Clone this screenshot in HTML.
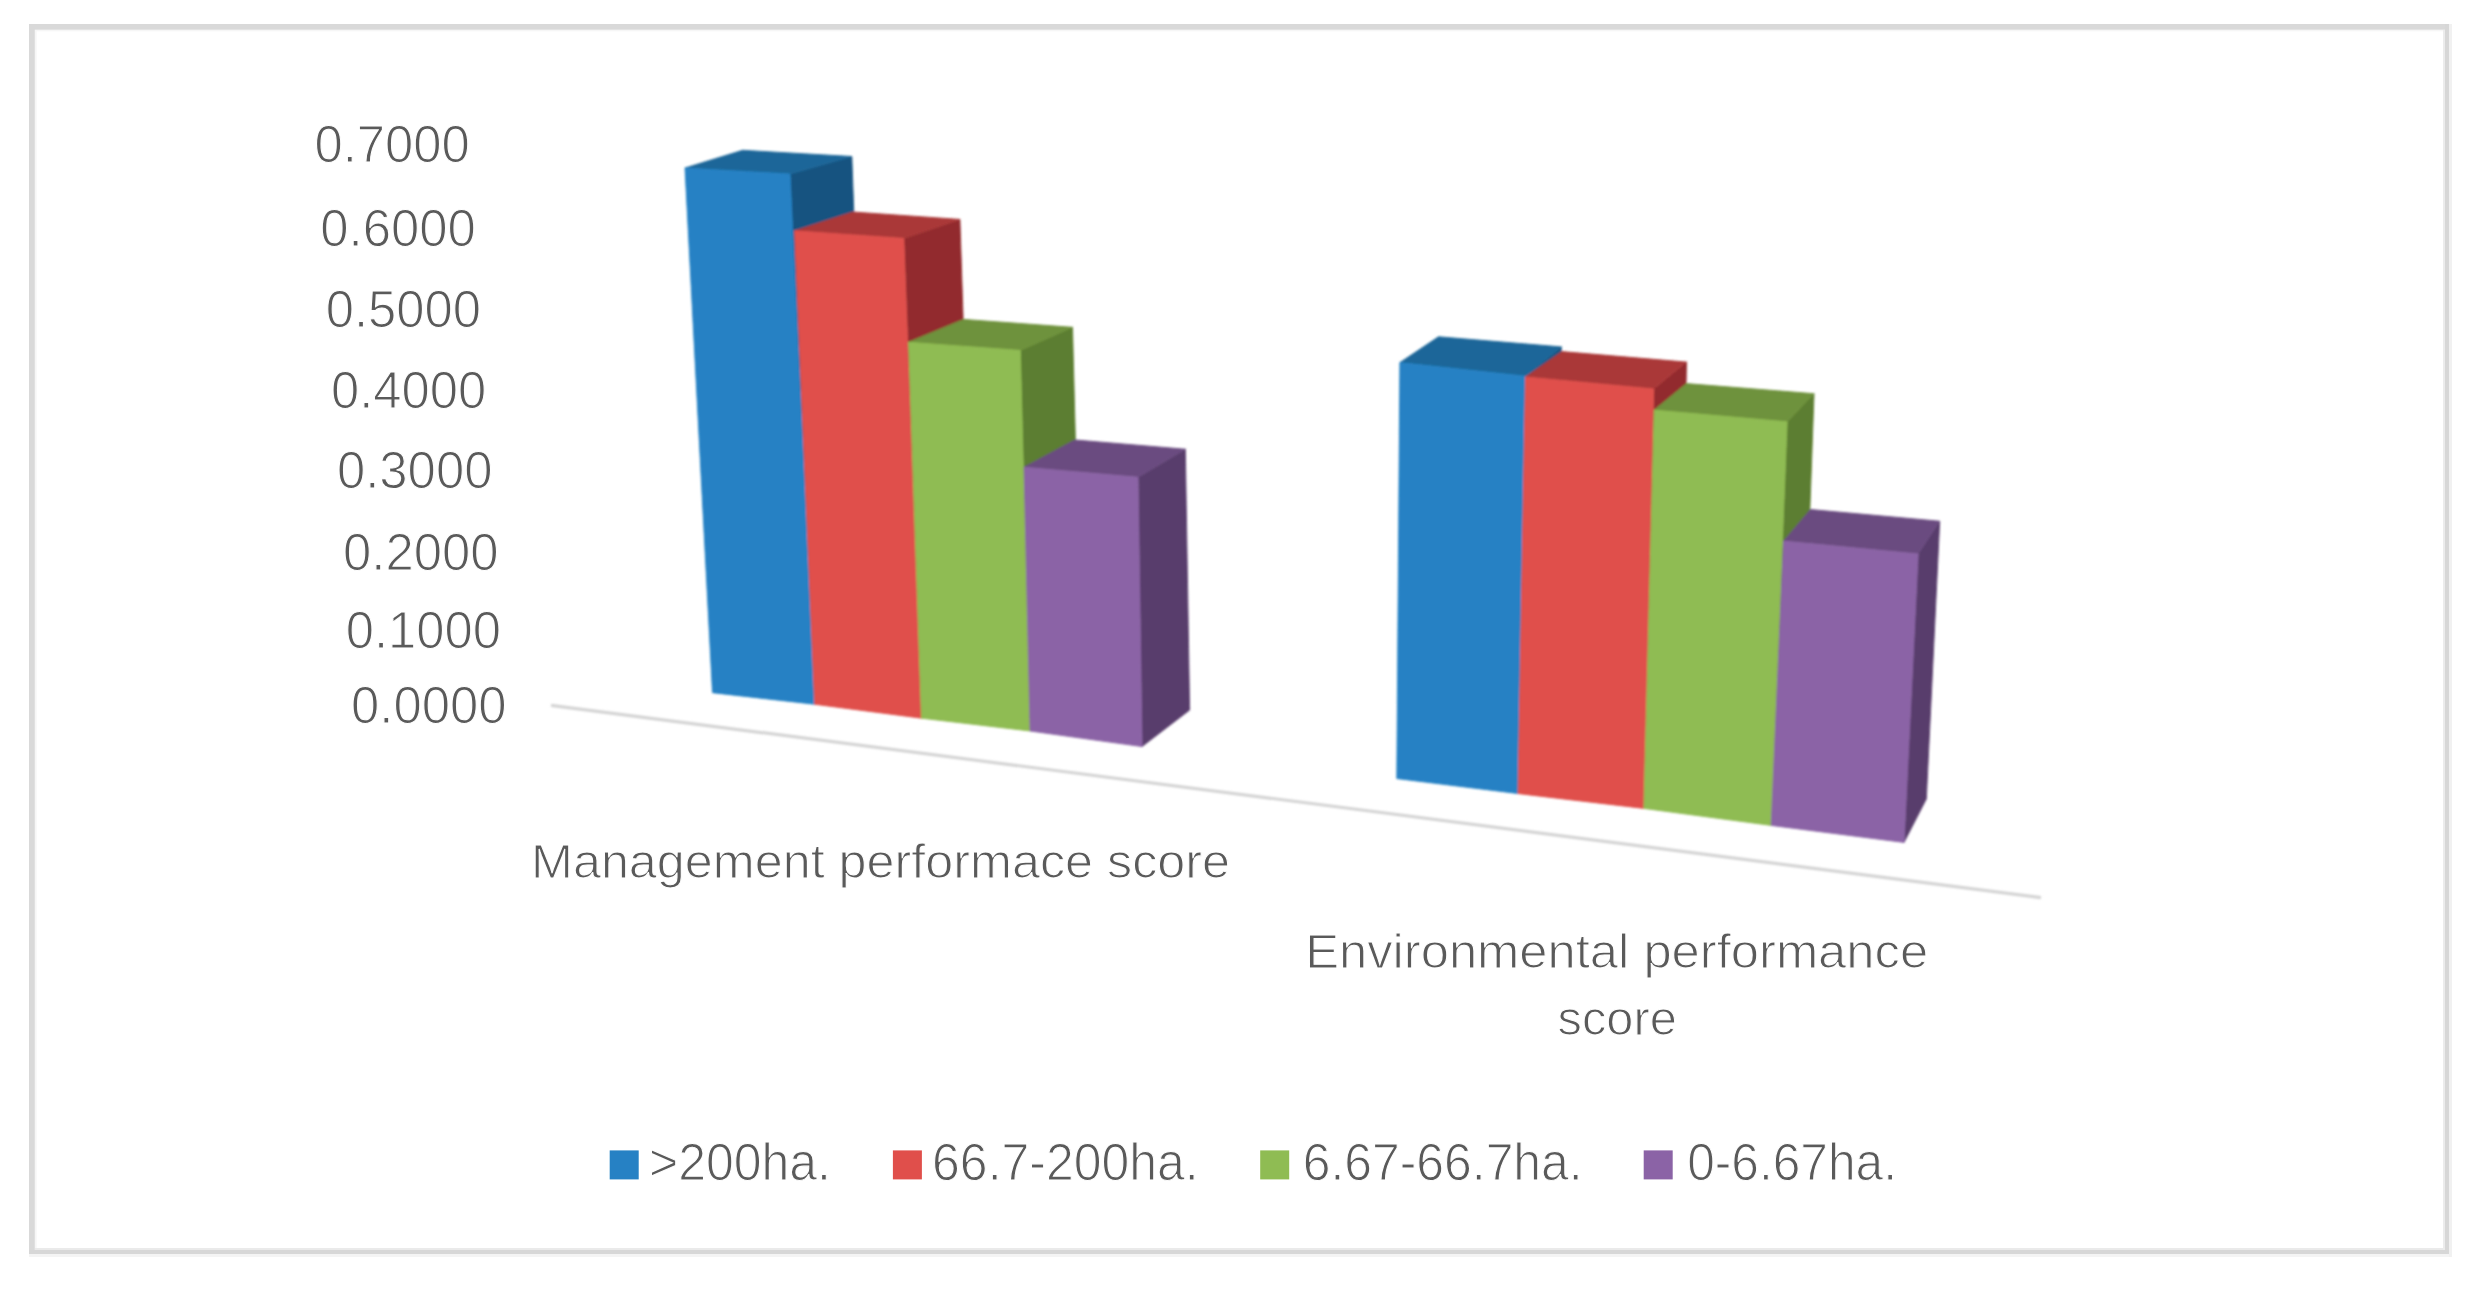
<!DOCTYPE html>
<html><head><meta charset="utf-8"><title>chart</title>
<style>
html,body{margin:0;padding:0;background:#fff;}
body{width:2479px;height:1292px;overflow:hidden;}
svg{display:block;}
polygon{stroke-width:0.9;stroke-linejoin:round;}
text{font-family:"Liberation Sans",sans-serif;fill:#5a5a5a;stroke:#ffffff;stroke-width:1.1;paint-order:fill stroke;}
</style></head><body>
<svg width="2479" height="1292" viewBox="0 0 2479 1292">
<defs>
<filter id="bl" x="-5%" y="-5%" width="110%" height="110%"><feGaussianBlur stdDeviation="1.0"/></filter>
<filter id="bt" x="-5%" y="-5%" width="110%" height="110%"><feGaussianBlur stdDeviation="0.6"/></filter>
</defs>
<rect x="0" y="0" width="2479" height="1292" fill="#ffffff"/>
<g id="frame">
<rect x="29" y="1254" width="2423" height="3" fill="#f4f4f4"/>
<rect x="2449" y="24" width="3" height="1233" fill="#f1f1f1"/>
<rect x="34.8" y="29.7" width="2410" height="1.6" fill="#f6f6f6"/>
<rect x="34.8" y="29.7" width="1.8" height="1220" fill="#f6f6f6"/>
<rect x="34.8" y="1248" width="2410" height="2" fill="#eaeaea"/>
<rect x="2443" y="29.7" width="2" height="1220.3" fill="#ececec"/>
<rect x="29" y="24" width="2420" height="5.7" fill="#d9d9d9"/>
<rect x="29" y="24" width="5.8" height="1230" fill="#d9d9d9"/>
<rect x="29" y="1250" width="2420" height="4" fill="#d7d7d7"/>
<rect x="2445" y="24" width="4" height="1230" fill="#d7d7d7"/>
</g>
<line x1="551" y1="705.4" x2="2041" y2="897.6" stroke="#d4d4d4" stroke-width="3.2" filter="url(#bl)"/>
<g id="bars1" filter="url(#bl)">
<polygon fill="#165280" stroke="#165280" points="790.0,174.0 851.8,156.5 870.0,670.0 814.7,704.3"/>
<polygon fill="#1c6699" stroke="#1c6699" points="685.0,168.0 742.6,150.3 851.8,156.5 790.0,174.0"/>
<polygon fill="#2581c4" stroke="#2581c4" points="685.0,168.0 790.0,174.0 814.7,704.3 712.5,692.7"/>
<polygon fill="#922c2e" stroke="#922c2e" points="903.8,238.4 959.9,219.4 975.0,690.0 921.5,718.2"/>
<polygon fill="#aa3838" stroke="#aa3838" points="794.6,230.8 852.9,212.0 959.9,219.4 903.8,238.4"/>
<polygon fill="#e0504c" stroke="#e0504c" points="794.6,230.8 903.8,238.4 921.5,718.2 814.7,704.3"/>
<polygon fill="#5c7e30" stroke="#5c7e30" points="1020.3,350.4 1072.5,327.3 1082.0,700.0 1030.1,731.0"/>
<polygon fill="#6e923c" stroke="#6e923c" points="908.6,342.2 963.6,319.4 1072.5,327.3 1020.3,350.4"/>
<polygon fill="#8fbc52" stroke="#8fbc52" points="908.6,342.2 1020.3,350.4 1030.1,731.0 921.5,718.2"/>
<polygon fill="#583c6c" stroke="#583c6c" points="1138.0,477.3 1185.3,449.2 1189.6,710.1 1142.0,746.6"/>
<polygon fill="#6a4c80" stroke="#6a4c80" points="1024.1,467.2 1074.8,439.9 1185.3,449.2 1138.0,477.3"/>
<polygon fill="#8b64a6" stroke="#8b64a6" points="1024.1,467.2 1138.0,477.3 1142.0,746.6 1030.1,731.0"/>
</g>
<g id="bars2" filter="url(#bl)">
<polygon fill="#165280" stroke="#165280" points="1525.5,376.2 1561.3,346.9 1555.0,760.0 1518.0,793.6"/>
<polygon fill="#1c6699" stroke="#1c6699" points="1399.9,362.6 1438.5,336.8 1561.3,346.9 1525.5,376.2"/>
<polygon fill="#2581c4" stroke="#2581c4" points="1399.9,362.6 1525.5,376.2 1518.0,793.6 1396.8,778.6"/>
<polygon fill="#922c2e" stroke="#922c2e" points="1653.7,389.0 1686.5,362.1 1678.0,770.0 1643.9,808.4"/>
<polygon fill="#aa3838" stroke="#aa3838" points="1525.5,376.9 1562.0,351.6 1686.5,362.1 1653.7,389.0"/>
<polygon fill="#e0504c" stroke="#e0504c" points="1525.5,376.9 1653.7,389.0 1643.9,808.4 1518.0,793.6"/>
<polygon fill="#5c7e30" stroke="#5c7e30" points="1787.1,421.8 1814.0,393.7 1800.0,785.0 1771.2,825.4"/>
<polygon fill="#6e923c" stroke="#6e923c" points="1654.2,410.1 1686.5,383.6 1814.0,393.7 1787.1,421.8"/>
<polygon fill="#8fbc52" stroke="#8fbc52" points="1654.2,410.1 1787.1,421.8 1771.2,825.4 1643.9,808.4"/>
<polygon fill="#583c6c" stroke="#583c6c" points="1918.1,554.0 1939.7,521.2 1926.3,799.0 1904.0,842.4"/>
<polygon fill="#6a4c80" stroke="#6a4c80" points="1783.6,541.1 1810.5,509.5 1939.7,521.2 1918.1,554.0"/>
<polygon fill="#8b64a6" stroke="#8b64a6" points="1783.6,541.1 1918.1,554.0 1904.0,842.4 1771.2,825.4"/>
</g>
<g font-size="51" id="ylabels" filter="url(#bt)">
<text x="314.4" y="161.7" textLength="155.4" lengthAdjust="spacingAndGlyphs">0.7000</text>
<text x="320.3" y="245.5" textLength="155.5" lengthAdjust="spacingAndGlyphs">0.6000</text>
<text x="325.7" y="327.0" textLength="155.2" lengthAdjust="spacingAndGlyphs">0.5000</text>
<text x="331.0" y="407.6" textLength="155.3" lengthAdjust="spacingAndGlyphs">0.4000</text>
<text x="336.9" y="488.2" textLength="155.6" lengthAdjust="spacingAndGlyphs">0.3000</text>
<text x="343.0" y="569.8" textLength="155.6" lengthAdjust="spacingAndGlyphs">0.2000</text>
<text x="345.7" y="647.5" textLength="155.2" lengthAdjust="spacingAndGlyphs">0.1000</text>
<text x="351.0" y="722.8" textLength="155.6" lengthAdjust="spacingAndGlyphs">0.0000</text>
</g>
<g font-size="49" id="xlabels" filter="url(#bt)">
<text x="531" y="878.2" textLength="699" lengthAdjust="spacingAndGlyphs">Management performace score</text>
<text x="1305.2" y="967.8" textLength="622.9" lengthAdjust="spacingAndGlyphs">Environmental performance</text>
<text x="1557.6" y="1035" textLength="119.2" lengthAdjust="spacingAndGlyphs">score</text>
</g>
<g font-size="51" id="legend" filter="url(#bt)">
<rect x="609.7" y="1150.4" width="29" height="29" fill="#2581c4"/>
<text x="649.0" y="1179.8" textLength="182.0" lengthAdjust="spacingAndGlyphs">&gt;200ha.</text>
<rect x="892.9" y="1150.4" width="29" height="29" fill="#e0504c"/>
<text x="932.1" y="1179.8" textLength="266.5" lengthAdjust="spacingAndGlyphs">66.7-200ha.</text>
<rect x="1260.2" y="1150.4" width="29" height="29" fill="#8fbc52"/>
<text x="1302.7" y="1179.8" textLength="280.0" lengthAdjust="spacingAndGlyphs">6.67-66.7ha.</text>
<rect x="1643.7" y="1150.4" width="29" height="29" fill="#8b64a6"/>
<text x="1687.2" y="1179.8" textLength="209.8" lengthAdjust="spacingAndGlyphs">0-6.67ha.</text>
</g>
</svg>
</body></html>
